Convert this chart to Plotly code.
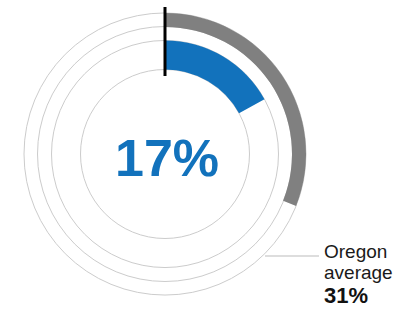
import plotly.graph_objects as go

# Data
county_pct = [17]
state_pct = [31]
state_label_lines = ["Oregon", "average"]
county_text = "17%"
state_text = "31%"

W, H = 407, 310
CX, CY = 165, 154          # centre in px (from top-left)
RMAX = 148                 # radial range in px

blue = "#1272BC"
gray = "#808080"
ring = "#cccccc"
FONT = "Liberation Sans, Arial"

fig = go.Figure()

# Outer ring: state average
fig.add_trace(go.Barpolar(
    r=[14], base=[127],
    theta=[p * 3.6 / 2 for p in state_pct],
    width=[p * 3.6 for p in state_pct],
    marker=dict(color=gray, line=dict(width=0)),
    hoverinfo="skip", showlegend=False,
))
# Inner ring: county value
fig.add_trace(go.Barpolar(
    r=[29], base=[84.5],
    theta=[p * 3.6 / 2 for p in county_pct],
    width=[p * 3.6 for p in county_pct],
    marker=dict(color=blue, line=dict(width=0)),
    hoverinfo="skip", showlegend=False,
))
# Zero marker line at top
fig.add_trace(go.Scatterpolar(
    r=[78, 147], theta=[0, 0], mode="lines",
    line=dict(color="black", width=3),
    cliponaxis=False, hoverinfo="skip", showlegend=False,
))

label_y = [251, 272]
annotations = [
    dict(text=f"<b>{county_text}</b>", x=167 / W, y=(H - 158) / H,
         xref="paper", yref="paper", xanchor="center", yanchor="middle",
         showarrow=False, font=dict(family=FONT, size=52, color=blue)),
    dict(text=f"<b>{state_text}</b>", x=322 / W, y=(H - 295.5) / H,
         xref="paper", yref="paper", xanchor="left", yanchor="middle",
         showarrow=False, font=dict(family=FONT, size=22, color="#111111")),
]
for txt, yy in zip(state_label_lines, label_y):
    annotations.append(dict(text=txt, x=322 / W, y=(H - yy) / H,
                            xref="paper", yref="paper", xanchor="left",
                            yanchor="middle", showarrow=False,
                            font=dict(family=FONT, size=19, color="#1a1a1a")))

fig.update_layout(
    width=W, height=H,
    margin=dict(l=0, r=0, t=0, b=0),
    paper_bgcolor="white",
    polar=dict(
        domain=dict(x=[(CX - RMAX) / W, (CX + RMAX) / W],
                    y=[(H - CY - RMAX) / H, (H - CY + RMAX) / H]),
        bgcolor="white",
        barmode="overlay",
        bargap=0,
        radialaxis=dict(range=[0, RMAX], tickvals=[84.5, 113.5, 127.5, 141],
                        showgrid=True, gridcolor=ring, gridwidth=1,
                        showticklabels=False, ticks="", showline=False),
        angularaxis=dict(rotation=90, direction="clockwise", showgrid=False,
                         showticklabels=False, ticks="", showline=False),
    ),
    shapes=[dict(type="line", xref="paper", yref="paper",
                 x0=265 / W, x1=319 / W, y0=(H - 256) / H, y1=(H - 256) / H,
                 line=dict(color="#bbbbbb", width=1))],
    annotations=annotations,
)

fig.write_html(
    "out.html",
    config={"displayModeBar": False},
    post_script="document.body.style.margin='0';document.body.style.padding='0';",
)
